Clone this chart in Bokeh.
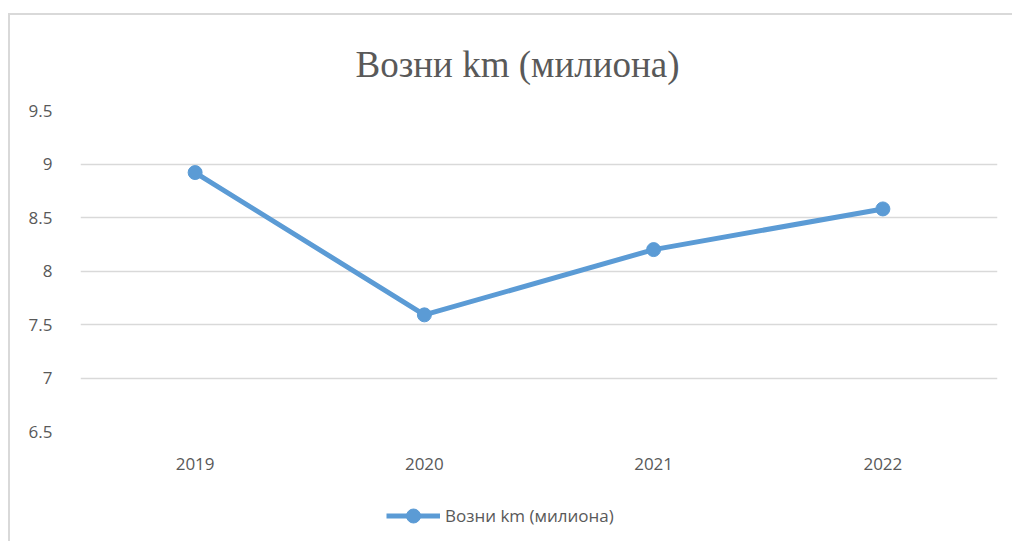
from bokeh.plotting import figure
from bokeh.layouts import column
from bokeh.models import Legend, LegendItem, FixedTicker, Range1d, FactorRange
from bokeh.embed import file_html
from bokeh.resources import INLINE

years = ["2019", "2020", "2021", "2022"]
rides_km = [8.92, 7.59, 8.20, 8.58]
y_ticks = [6.5, 7, 7.5, 8, 8.5, 9, 9.5]
y_tick_labels = ["6.5", "7", "7.5", "8", "8.5", "9", "9.5"]
title_text = "Возни km (милиона)"
series_name = "Возни km (милиона)"

BLUE = "#5B9BD5"
GREY = "#595959"
GRID = "#d9d9d9"

p = figure(frame_width=917, frame_height=321, x_range=FactorRange(*years, range_padding=0),
           y_range=Range1d(6.5, 9.5), output_backend="svg", toolbar_location=None,
           min_border_left=70, min_border_right=15, min_border_top=95, min_border_bottom=60,
           title=title_text)
p.outline_line_color = None
p.background_fill_color = "white"
p.border_fill_color = "white"

p.title.align = "left"
p.title.offset = 275
p.title.text_font = "Liberation Serif"
p.title.text_font_size = "37px"
p.title.text_font_style = "normal"
p.title.text_color = GREY
p.title.standoff = 51

p.xgrid.grid_line_color = None
p.ygrid.grid_line_color = GRID
p.ygrid.grid_line_width = 1.5
p.yaxis.ticker = FixedTicker(ticks=y_ticks)
p.yaxis.major_label_overrides = {t: l for t, l in zip(y_ticks, y_tick_labels)}

for ax in (p.xaxis, p.yaxis):
    ax.axis_line_color = None
    ax.major_tick_line_color = None
    ax.minor_tick_line_color = None
    ax.major_label_text_font = "Open Sans"
    ax.major_label_text_font_size = "17px"
    ax.major_label_text_color = GREY
p.yaxis.major_label_standoff = 22
p.xaxis.major_label_standoff = 20

p.line(years, rides_km, line_color=BLUE, line_width=5, line_join="round")
p.scatter(years, rides_km, size=14, fill_color=BLUE, line_color=BLUE)

# legend strip below the chart (same series, its values lie outside this strip's range)
q = figure(width=1002, height=50, x_range=FactorRange(*years, range_padding=0),
           y_range=Range1d(0, 1), output_backend="svg", toolbar_location=None,
           min_border=0)
q.outline_line_color = None
q.axis.visible = False
q.grid.visible = False
ln = q.line(years, rides_km, line_color=BLUE, line_width=5, line_join="round")
sc = q.scatter(years, rides_km, size=14, fill_color=BLUE, line_color=BLUE)
legend = Legend(items=[LegendItem(label=series_name, renderers=[ln, sc])],
                location=(306, 8), orientation="horizontal", margin=0, padding=0,
                glyph_width=54, glyph_height=35, label_standoff=5,
                label_text_font="Open Sans", label_text_font_size="17px",
                label_text_color=GREY, border_line_color=None, background_fill_alpha=0)
q.add_layout(legend)

layout = column(p, q, spacing=0)
layout.styles = {"border-left": "2px solid #d9d9d9", "border-top": "2px solid #d9d9d9",
                 "margin-top": "13px", "margin-left": "8px"}

open("out.html", "w").write(file_html(layout, INLINE))
